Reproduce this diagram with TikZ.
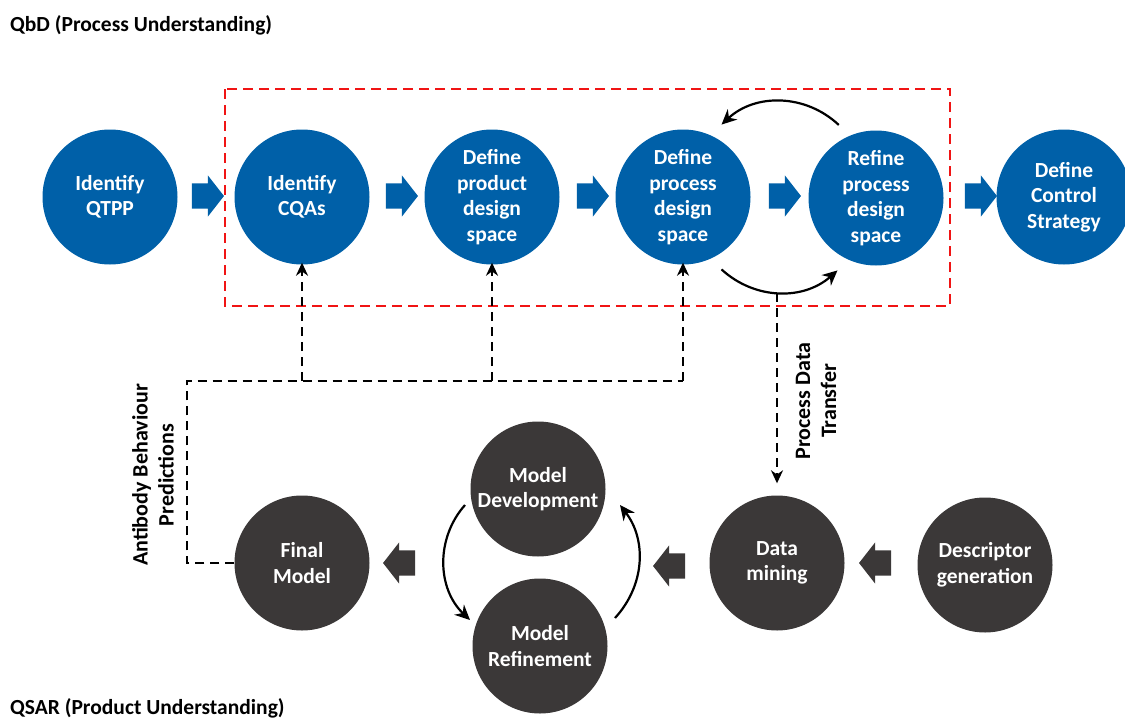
\documentclass[tikz,border=0pt]{standalone}
\usepackage{fontspec}
\setmainfont{Carlito}
\usetikzlibrary{arrows.meta,shapes.arrows}
\definecolor{qbdblue}{RGB}{0,96,168}
\definecolor{qsargray}{RGB}{59,56,56}
\definecolor{boxred}{RGB}{240,20,20}
\begin{document}
\begin{tikzpicture}[x=1pt,y=-1pt,
  stage/.style={circle,fill=qbdblue,minimum size=135pt,inner sep=0pt,
    text=white,font=\fontsize{21.5}{25.5}\selectfont\bfseries,align=center},
  qstage/.style={stage,fill=qsargray},
  blockarrow/.style={single arrow,fill=#1,draw=none,minimum height=32pt,
    inner xsep=0pt,inner ysep=12.5pt,single arrow head extend=8pt,
    single arrow tip angle=104,text width=0pt},
  loop/.style={line width=2.2pt,-{Stealth[length=15pt,width=14pt]}},
  feed/.style={line width=2.2pt,dash pattern=on 9pt off 6pt},
  feedarrow/.style={feed,-{Stealth[length=13pt,width=12pt]}},
  heading/.style={font=\fontsize{21.5}{25}\selectfont\bfseries,anchor=west,inner sep=0pt},
  sidelabel/.style={font=\fontsize{22}{26}\selectfont\bfseries,align=center,rotate=90}]
\useasboundingbox (0,0) rectangle (1125,720);
\clip (0,0) rectangle (1125,720);

% headings
\node[heading] (qbdtitle) at (10,25) {QbD (Process Understanding)};
\node[heading] (qsartitle) at (10,708) {QSAR (Product Understanding)};

% QbD stages
\node[stage] (qtpp) at (110,197) {Identify\\QTPP};
\node[stage] (cqa) at (302,197) {Identify\\CQAs};
\node[stage] (prodds) at (492,197) {Define\\product\\design\\space};
\node[stage] (procds) at (683,197) {Define\\process\\design\\space};
\node[stage] (refine) at (876,198) {Refine\\process\\design\\space};
\node[stage] (control) at (1064,197) {Define\\Control\\Strategy};

\node[blockarrow=qbdblue] (b1) at (203,196) {};
\node[blockarrow=qbdblue] (b2) at (397,196) {};
\node[blockarrow=qbdblue] (b3) at (588,196) {};
\node[blockarrow=qbdblue] (b4) at (780,196) {};
\node[blockarrow=qbdblue] (b5) at (976,196) {};

% design space region
\draw[boxred,line width=2pt,dash pattern=on 10pt off 6pt] (225,89) rectangle (950,306);

% iteration between process design space stages
\draw[loop] ([shift={(-117:82)}]refine.center) to[bend right=43] ([shift={(-62:82)}]procds.center);
\draw[loop] ([shift={(62:82)}]procds.center) to[bend right=42] ([shift={(118:82)}]refine.center);

% QSAR stages
\node[qstage] (final) at (302,563) {Final\\Model};
\node[qstage] (mdev) at (538,489) {Model\\Development};
\node[qstage] (mref) at (540,646) {Model\\Refinement};
\node[qstage] (mining) at (777,563) {Data\\mining};
\node[qstage] (descr) at (985,565) {Descriptor\\generation};

\node[blockarrow=qsargray,shape border rotate=180] (g1) at (404,563) {};
\node[blockarrow=qsargray,shape border rotate=180] (g2) at (674,566) {};
\node[blockarrow=qsargray,shape border rotate=180] (g3) at (880,563) {};

% model development cycle
\draw[loop] ([shift={(-73,16)}]mdev.center) to[bend right=44] ([shift={(-70,-26)}]mref.center);
\draw[loop] ([shift={(75,-28)}]mref.center) to[bend right=40] ([shift={(82,16)}]mdev.center);

% predictions fed back to QbD
\coordinate (hub) at (187,381);
\draw[feed] (final.west) -| (hub) -- (procds.south |- hub);
\draw[feedarrow] (cqa.south |- hub) -- ([yshift=2pt]cqa.south);
\draw[feedarrow] (prodds.south |- hub) -- ([yshift=2pt]prodds.south);
\draw[feedarrow] (procds.south |- hub) -- ([yshift=2pt]procds.south);
\node[sidelabel] (predlabel) at (153,475) {Antibody Behaviour\\Predictions};

% process data to QSAR
\coordinate (pdt) at (777,293);
\draw[feedarrow,shorten >=12pt] (pdt) -- (mining.north);
\node[sidelabel] (pdtlabel) at (816,401) {Process Data\\Transfer};
\end{tikzpicture}
\end{document}
